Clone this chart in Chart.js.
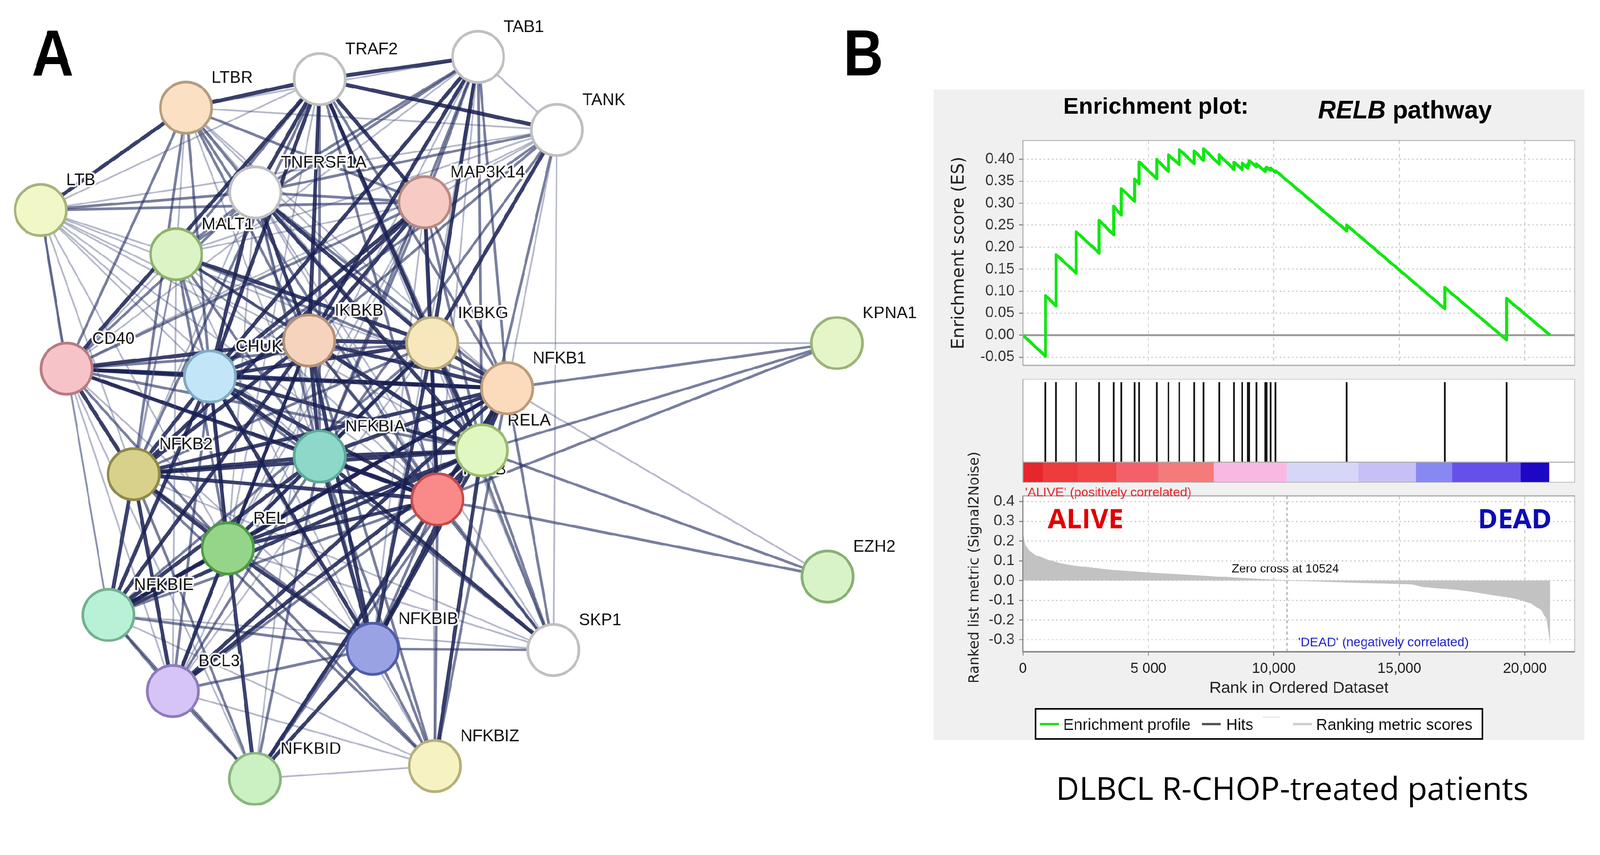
<!DOCTYPE html>
<html><head><meta charset="utf-8"><title>RELB network and GSEA enrichment plot</title>
<script src="https://cdn.jsdelivr.net/npm/chart.js@4.4.1/dist/chart.umd.min.js"></script>
<style>
html,body{margin:0;padding:0;background:#ffffff;overflow:hidden;}
#wrap{position:absolute;left:0;top:0;width:4250px;height:2188px;transform-origin:0 0;}
canvas{position:absolute;display:block;}
</style></head><body>
<div id="wrap">
<canvas id="base" width="4250" height="2188" style="left:0;top:0;width:4250px;height:2188px"></canvas>
<canvas id="es" width="1704" height="669" style="left:2480px;top:337px;width:1704px;height:669px"></canvas>
<canvas id="hits" width="1704" height="221" style="left:2480px;top:1006px;width:1704px;height:221px"></canvas>
<canvas id="bar" width="1704" height="54" style="left:2480px;top:1227px;width:1704px;height:54px"></canvas>
<canvas id="metric" width="1704" height="579" style="left:2480px;top:1281px;width:1704px;height:579px"></canvas>
</div>
<script>
// fit the 4250x2188 drawing into the actual viewport
(function(){const s=Math.min(window.innerWidth/4250, window.innerHeight/2188);
  document.getElementById('wrap').style.transform='scale('+s+')';})();

// ================= Panel A : STRING network =================
const nodeNames = ['LTBR','TRAF2','TAB1','TANK','LTB','TNFRSF1A','MAP3K14','MALT1','KPNA1','CD40','CHUK','IKBKB','IKBKG','NFKB1','NFKBIA','RELA','RELB','NFKB2','REL','EZH2','NFKBIE','NFKBIB','SKP1','BCL3','NFKBID','NFKBIZ'];
const nodeX = [494,849,1270,1479,108,678,1128,468,2223,177,558,821,1148,1347,849,1280,1162,355,605,2198,288,990,1470,459,677,1155];
const nodeY = [286,210,151,345,558,511,537,675,911,979,1000,904,911,1031,1212,1196,1326,1259,1456,1531,1633,1723,1726,1835,2068,2034];
const nodeFill = ['#fbe0c4','#ffffff','#ffffff','#ffffff','#f2f7c8','#ffffff','#f6cbc4','#dcf3c5','#e4f6c7','#f6c4c8','#c2e6f8','#f6d3bd','#f8e7bd','#fcdbbd','#8ed8ca','#e1f7c2','#fa8a8a','#d7d18c','#95d589','#d7f3c7','#b9f1d6','#99a3e3','#ffffff','#d7c4f6','#cbf0c1','#f7f2c2'];
const nodeStroke = ['#b59c7c','#c0c0c0','#c0c0c0','#c0c0c0','#a7b47c','#c0c0c0','#b88a82','#8fb26c','#9db27a','#b87a80','#80aac4','#b39078','#b7aa7c','#bd9b79','#5ea898','#9abb6e','#c44a4a','#8f8a48','#4c9b42','#88b072','#72b290','#4f5caa','#c0c0c0','#8e7ac0','#89b67d','#b6b07c'];
// [from, to, confidence level 1..3]
const edges = [
 ['TRAF2','LTBR',3],['TRAF2','TAB1',3],['TRAF2','TANK',3],['TRAF2','TNFRSF1A',3],['TRAF2','MAP3K14',3],['TRAF2','CHUK',3],['TRAF2','IKBKB',3],['TRAF2','IKBKG',3],['TRAF2','NFKB1',2],['TRAF2','RELA',2],['TRAF2','RELB',2],['TRAF2','NFKB2',2],['TRAF2','CD40',3],['TRAF2','LTB',1],['TRAF2','MALT1',2],['TRAF2','NFKBIA',2],['TRAF2','REL',1],['TRAF2','SKP1',1],
 ['TAB1','TANK',1],['TAB1','MAP3K14',2],['TAB1','IKBKB',3],['TAB1','IKBKG',3],['TAB1','CHUK',3],['TAB1','TNFRSF1A',2],['TAB1','NFKB1',2],['TAB1','RELA',2],['TAB1','NFKBIA',2],['TAB1','LTBR',1],['TAB1','MALT1',2],['TAB1','REL',1],['TAB1','CD40',1],['TAB1','RELB',1],['TAB1','NFKBIB',1],
 ['TANK','IKBKG',3],['TANK','IKBKB',2],['TANK','CHUK',2],['TANK','TNFRSF1A',2],['TANK','MAP3K14',1],['TANK','NFKB1',1],['TANK','RELA',2],['TANK','NFKBIA',2],['TANK','LTBR',1],['TANK','MALT1',1],['TANK','SKP1',1],['TANK','CD40',1],['TANK','LTB',1],
 ['LTBR','LTB',3],['LTBR','TNFRSF1A',2],['LTBR','MAP3K14',2],['LTBR','CHUK',2],['LTBR','IKBKB',2],['LTBR','MALT1',1],['LTBR','NFKB2',2],['LTBR','RELB',2],['LTBR','RELA',1],['LTBR','NFKB1',1],['LTBR','CD40',2],['LTBR','IKBKG',1],['LTBR','NFKBIA',1],
 ['LTB','TNFRSF1A',2],['LTB','MAP3K14',2],['LTB','CD40',2],['LTB','CHUK',1],['LTB','IKBKB',1],['LTB','NFKB2',1],['LTB','RELB',1],['LTB','RELA',1],['LTB','NFKB1',1],['LTB','NFKBIA',1],['LTB','REL',1],['LTB','MALT1',1],['LTB','NFKBIE',1],
 ['TNFRSF1A','IKBKB',3],['TNFRSF1A','IKBKG',3],['TNFRSF1A','CHUK',3],['TNFRSF1A','MAP3K14',2],['TNFRSF1A','NFKB1',2],['TNFRSF1A','RELA',3],['TNFRSF1A','NFKBIA',2],['TNFRSF1A','CD40',2],['TNFRSF1A','MALT1',2],['TNFRSF1A','RELB',1],['TNFRSF1A','NFKB2',1],['TNFRSF1A','REL',1],['TNFRSF1A','SKP1',1],['TNFRSF1A','NFKBIB',1],
 ['MAP3K14','CHUK',3],['MAP3K14','IKBKB',3],['MAP3K14','IKBKG',2],['MAP3K14','NFKB2',3],['MAP3K14','RELB',3],['MAP3K14','NFKB1',2],['MAP3K14','RELA',2],['MAP3K14','NFKBIA',2],['MAP3K14','CD40',2],['MAP3K14','MALT1',1],['MAP3K14','REL',1],['MAP3K14','NFKBIB',1],['MAP3K14','BCL3',1],
 ['MALT1','IKBKG',3],['MALT1','IKBKB',2],['MALT1','CHUK',2],['MALT1','NFKB1',2],['MALT1','RELA',2],['MALT1','NFKBIA',2],['MALT1','REL',2],['MALT1','CD40',1],['MALT1','BCL3',1],['MALT1','NFKB2',1],['MALT1','RELB',1],['MALT1','NFKBIB',1],['MALT1','NFKBIE',1],
 ['KPNA1','IKBKG',1],['KPNA1','NFKB1',2],['KPNA1','RELA',2],['KPNA1','RELB',2],
 ['EZH2','NFKB1',1],['EZH2','RELA',2],['EZH2','RELB',2],
 ['CD40','CHUK',3],['CD40','IKBKB',3],['CD40','IKBKG',2],['CD40','NFKB1',3],['CD40','RELA',2],['CD40','RELB',3],['CD40','NFKB2',3],['CD40','NFKBIA',2],['CD40','REL',2],['CD40','NFKBIE',1],['CD40','BCL3',1],['CD40','NFKBIB',1],['CD40','NFKBID',1],
 ['CHUK','IKBKB',3],['CHUK','IKBKG',3],['CHUK','NFKB1',3],['CHUK','RELA',3],['CHUK','RELB',3],['CHUK','NFKB2',3],['CHUK','NFKBIA',3],['CHUK','NFKBIB',3],['CHUK','NFKBIE',3],['CHUK','REL',3],['CHUK','BCL3',2],['CHUK','SKP1',2],['CHUK','NFKBID',1],['CHUK','NFKBIZ',1],
 ['IKBKB','IKBKG',3],['IKBKB','NFKB1',3],['IKBKB','RELA',3],['IKBKB','RELB',2],['IKBKB','NFKB2',3],['IKBKB','NFKBIA',3],['IKBKB','NFKBIB',3],['IKBKB','NFKBIE',3],['IKBKB','REL',3],['IKBKB','BCL3',2],['IKBKB','SKP1',2],['IKBKB','NFKBID',1],['IKBKB','NFKBIZ',2],
 ['IKBKG','NFKB1',3],['IKBKG','RELA',3],['IKBKG','RELB',2],['IKBKG','NFKB2',2],['IKBKG','NFKBIA',3],['IKBKG','NFKBIB',3],['IKBKG','NFKBIE',2],['IKBKG','REL',2],['IKBKG','BCL3',1],['IKBKG','SKP1',2],['IKBKG','NFKBIZ',1],
 ['NFKB1','RELA',3],['NFKB1','RELB',3],['NFKB1','NFKB2',3],['NFKB1','REL',3],['NFKB1','NFKBIA',3],['NFKB1','NFKBIB',3],['NFKB1','NFKBIE',3],['NFKB1','BCL3',3],['NFKB1','NFKBID',2],['NFKB1','NFKBIZ',2],['NFKB1','SKP1',2],
 ['NFKBIA','RELA',3],['NFKBIA','RELB',3],['NFKBIA','NFKB2',3],['NFKBIA','REL',3],['NFKBIA','NFKBIB',3],['NFKBIA','NFKBIE',3],['NFKBIA','BCL3',2],['NFKBIA','NFKBID',2],['NFKBIA','NFKBIZ',2],['NFKBIA','SKP1',3],
 ['RELA','RELB',3],['RELA','NFKB2',3],['RELA','REL',3],['RELA','NFKBIB',3],['RELA','NFKBIE',3],['RELA','BCL3',3],['RELA','NFKBID',2],['RELA','NFKBIZ',3],['RELA','SKP1',2],
 ['RELB','NFKB2',3],['RELB','REL',3],['RELB','NFKBIB',2],['RELB','NFKBIE',2],['RELB','BCL3',2],['RELB','NFKBID',3],['RELB','NFKBIZ',2],['RELB','SKP1',2],
 ['NFKB2','REL',3],['NFKB2','NFKBIB',2],['NFKB2','NFKBIE',3],['NFKB2','BCL3',3],['NFKB2','NFKBID',2],['NFKB2','NFKBIZ',2],['NFKB2','SKP1',1],
 ['REL','NFKBIB',3],['REL','NFKBIE',3],['REL','BCL3',3],['REL','NFKBID',3],['REL','NFKBIZ',2],['REL','SKP1',1],
 ['NFKBIE','NFKBIB',2],['NFKBIE','BCL3',2],['NFKBIE','NFKBID',2],['NFKBIE','NFKBIZ',1],['NFKBIE','SKP1',1],
 ['NFKBIB','BCL3',2],['NFKBIB','NFKBID',3],['NFKBIB','NFKBIZ',2],['NFKBIB','SKP1',2],
 ['BCL3','NFKBID',2],['BCL3','NFKBIZ',1],['NFKBID','NFKBIZ',1]
];

// ================= Panel B : GSEA =================
const esRank  = [0,900,900,1324,1324,2122,2122,3039,3039,3616,3616,3922,3922,4448,4448,4635,4635,5331,5331,5800,5800,6231,6231,6825,6825,7199,7199,7818,7818,8413,8413,8739,8739,8960,8960,9010,9010,9305,9305,9660,9660,9710,9710,9865,9865,10065,10065,12903,12903,16808,16808,19270,19270,21000];
const esScore = [0,-0.048,0.090,0.066,0.183,0.141,0.235,0.187,0.261,0.228,0.293,0.273,0.333,0.305,0.355,0.344,0.394,0.356,0.400,0.372,0.410,0.388,0.422,0.390,0.419,0.397,0.424,0.389,0.410,0.377,0.393,0.377,0.391,0.380,0.389,0.387,0.397,0.383,0.389,0.372,0.379,0.377,0.382,0.375,0.380,0.370,0.374,0.237,0.250,0.060,0.108,-0.011,0.083,0];
const hitRanks = [900,1324,2122,3039,3616,3922,4448,4635,5331,5800,6231,6825,7199,7818,8413,8739,8960,9010,9305,9660,9710,9865,10065,12903,16808,19270];
const metricRank  = [0,20,95,245,495,1000,1500,2000,2750,3500,4250,5250,6250,7250,8300,9400,10524,11500,12700,13500,14500,15500,15900,16300,17200,17900,18350,18750,19250,19750,20250,20650,20870,20990,21000];
const metricValue = [0.24,0.227,0.18,0.151,0.129,0.104,0.087,0.076,0.064,0.053,0.047,0.038,0.031,0.024,0.015,0.007,0,-0.003,-0.008,-0.011,-0.014,-0.018,-0.030,-0.037,-0.045,-0.056,-0.065,-0.073,-0.082,-0.096,-0.115,-0.149,-0.194,-0.30,-0.32];
const colorBarEdges  = [0,785,2180,3710,5380,7600,10510,13360,15650,17100,19820,20960];
const colorBarColors = ['#e5262b','#ee3b3b','#f04646','#f3606a','#f57a7a','#f9b8e2','#d6d6f8','#c6c0f6','#8888f2','#6650ea','#1c08c4'];
const xTickValues = [0,5000,10000,15000,20000];
const xTickLabels = ['0','5 000','10,000','15,000','20,000'];
const esTickValues = [-0.05,0,0.05,0.10,0.15,0.20,0.25,0.30,0.35,0.40];
const metricTickValues = [-0.3,-0.2,-0.1,0,0.1,0.2,0.3,0.4];
const zeroCross = 10524;

// ================= common =================
Chart.defaults.font.family = "'Liberation Sans', Arial, sans-serif";
Chart.defaults.animation = false;
const SANS = "'Liberation Sans', Arial, sans-serif";
const common = {responsive:false, animation:false, devicePixelRatio:1, events:[],
  layout:{padding:0, autoPadding:false},
  plugins:{legend:{display:false}, tooltip:{enabled:false}}};
const XMAX = 22000;
const AXW = 237;

// ---------- base chart (network + panel decorations) ----------
const idx = Object.fromEntries(nodeNames.map((n,i)=>[n,i]));
const edgeWidth = [0,4.5,7,10];
const edgeColor = ['', 'rgba(70,80,125,0.40)', 'rgba(38,48,98,0.62)', 'rgba(24,32,82,0.86)'];
const nodeDataset = {type:'scatter', label:'proteins',
  data: nodeNames.map((n,i)=>({x:nodeX[i], y:nodeY[i]})),
  pointRadius:68, pointHoverRadius:68, pointBorderWidth:7,
  pointBackgroundColor:nodeFill, pointBorderColor:nodeStroke, order:0};
const edgeDatasets = edges.map(([a,b,w])=>({type:'line', label:a+'-'+b,
  data:[{x:nodeX[idx[a]], y:nodeY[idx[a]]},{x:nodeX[idx[b]], y:nodeY[idx[b]]}],
  borderColor:edgeColor[w], borderWidth:edgeWidth[w], pointRadius:0, fill:false, order:1}));

function txt(ctx, s, x, y, font, color, align){ctx.font=font; ctx.fillStyle=color; ctx.textAlign=align||'left'; ctx.textBaseline='alphabetic'; ctx.fillText(s,x,y);}

const basePlugin = {
  id:'basePanel',
  beforeDraw(chart){
    const c=chart.ctx; c.save();
    c.fillStyle='#ffffff'; c.fillRect(0,0,4250,2188);
    c.fillStyle='#f0f0f0'; c.fillRect(2480,238,1729,1727);
    c.restore();
  },
  beforeDatasetDraw(chart,args){
    if(args.index!==0) return;
    const c=chart.ctx, xs=chart.scales.x, ys=chart.scales.y;
    c.save(); c.font='44px '+SANS; c.textBaseline='alphabetic'; c.textAlign='left'; c.lineJoin='round';
    nodeNames.forEach((n,i)=>{
      const px=xs.getPixelForValue(nodeX[i])+68, py=ys.getPixelForValue(nodeY[i])-66;
      c.strokeStyle='rgba(255,255,255,0.95)'; c.lineWidth=9; c.strokeText(n,px,py);
      c.fillStyle='#111111'; c.fillText(n,px,py);
    });
    c.restore();
  },
  afterDraw(chart){
    const c=chart.ctx; c.save();
    c.save(); c.translate(84,200); c.scale(0.9,1); txt(c,'A',0,0,'bold 172px '+SANS,'#000'); c.restore();
    c.save(); c.translate(2241,200); c.scale(0.85,1); txt(c,'B',0,0,'bold 172px '+SANS,'#000'); c.restore();
    txt(c,'Enrichment plot:',2824,302,'bold 62px '+SANS,'#000');
    c.font='italic bold 66px '+SANS; const wR=c.measureText('RELB ').width;
    txt(c,'RELB ',3501,314,'italic bold 66px '+SANS,'#000');
    txt(c,'pathway',3501+wR,314,'bold 66px '+SANS,'#000');
    txt(c,'DLBCL R-CHOP-treated patients',2805,2124,"85px 'Open Sans', "+SANS,'#000');
    // y title of the ranked-list panel (longer than the panel itself)
    c.save(); c.translate(2589,1507); c.rotate(-Math.PI/2);
    c.font="37px 'DejaVu Sans', sans-serif"; c.fillStyle='#222'; c.textAlign='center'; c.textBaseline='middle';
    c.fillText('Ranked list metric (Signal2Noise)',0,0); c.restore();
    // legend
    c.fillStyle='#ffffff'; c.fillRect(2751,1882,1187,80);
    c.strokeStyle='#000'; c.lineWidth=4; c.strokeRect(2751,1882,1187,80);
    const ly=1923;
    const seg=(x1,x2,y,col,w)=>{c.beginPath(); c.moveTo(x1,y); c.lineTo(x2,y); c.strokeStyle=col; c.lineWidth=w; c.stroke();};
    seg(2762,2813,ly,'#1ee01e',6); txt(c,'Enrichment profile',2824,ly+15,'42px '+SANS,'#111');
    seg(3193,3242,ly,'#555555',6); txt(c,'Hits',3257,ly+15,'42px '+SANS,'#111');
    seg(3355,3400,1904,'#e6e6e6',3);
    seg(3434,3485,ly,'#cfcfcf',6); txt(c,'Ranking metric scores',3496,ly+15,'42px '+SANS,'#111');
    c.restore();
  }
};

new Chart(document.getElementById('base'), {
  data:{datasets:[nodeDataset, ...edgeDatasets]},
  options:{...common,
    scales:{x:{type:'linear',min:0,max:4250,display:false}, y:{type:'linear',min:0,max:2188,reverse:true,display:false}}},
  plugins:[basePlugin]
});

// ---------- helpers for GSEA panels ----------
const whiteArea = {id:'whiteArea', beforeDraw(chart){const {ctx:c,chartArea:a}=chart; c.save(); c.fillStyle='#ffffff'; c.fillRect(a.left,a.top,a.width,a.height); c.restore();}};
function frame(chart,col,w){const {ctx:c,chartArea:a}=chart; c.save(); c.strokeStyle=col; c.lineWidth=w; c.strokeRect(a.left,a.top,a.width,a.height); c.restore();}
const xGridAxis = ()=>({type:'linear', min:0, max:XMAX,
  afterBuildTicks:s=>{s.ticks=xTickValues.map(v=>({value:v}));},
  grid:{color:'#cfcfcf', lineWidth:3, drawTicks:false, borderDash:[9,9]},
  border:{display:false, dash:[9,9]},
  ticks:{display:false}, afterFit:s=>{s.height=0;}});
const hiddenY = (min,max)=>({type:'linear',min,max, ticks:{display:false}, grid:{display:false}, border:{display:false}, afterFit:s=>{s.width=AXW;}});

// ---------- ES curve ----------
new Chart(document.getElementById('es'), {
  type:'line',
  data:{datasets:[{label:'Enrichment profile', data:esRank.map((r,i)=>({x:r,y:esScore[i]})),
    borderColor:'#12e612', borderWidth:8, pointRadius:0, tension:0, borderJoinStyle:'round', fill:false}]},
  options:{...common,
    scales:{
      x: xGridAxis(),
      y:{type:'linear', min:-0.0688, max:0.4428,
        afterBuildTicks:s=>{s.ticks=esTickValues.map(v=>({value:v}));},
        afterFit:s=>{s.width=AXW;},
        ticks:{callback:v=>v.toFixed(2), font:{size:40}, color:'#333', padding:12},
        grid:{color:'#cccccc', lineWidth:3, tickLength:10, tickColor:'#888', tickWidth:3, tickBorderDash:[], borderDash:[4,7]},
        border:{display:false, dash:[4,7]},
        title:{display:true, text:'Enrichment score (ES)', font:{family:'DejaVu Sans', size:46}, color:'#222', padding:{top:40,bottom:0}}}
    }},
  plugins:[whiteArea, {id:'esDeco',
    beforeDatasetsDraw(chart){const {ctx:c,chartArea:a,scales:{y}}=chart; const py=y.getPixelForValue(0);
      c.save(); c.strokeStyle='#9a9a9a'; c.lineWidth=5; c.beginPath(); c.moveTo(a.left,py); c.lineTo(a.right,py); c.stroke(); c.restore();},
    afterDraw(chart){frame(chart,'#a8a8a8',3);}}]
});

// ---------- hits ----------
new Chart(document.getElementById('hits'), {
  type:'line',
  data:{datasets:[{label:'Hits', data:hitRanks.flatMap(r=>[{x:r,y:0},{x:r,y:1},{x:r,y:null}]),
    borderColor:'#151515', borderWidth:4.5, pointRadius:0, spanGaps:false, fill:false}]},
  options:{...common,
    scales:{x:{type:'linear',min:0,max:XMAX,display:false}, y:hiddenY(0,1.042)}},
  plugins:[whiteArea, {id:'hitFrame', afterDraw(chart){frame(chart,'#a8a8a8',3);}}]
});

// ---------- colour bar ----------
new Chart(document.getElementById('bar'), {
  type:'bar',
  data:{labels:['rank'], datasets:colorBarColors.map((col,i)=>({label:'seg'+i,
    data:[[colorBarEdges[i], colorBarEdges[i+1]]], backgroundColor:col, borderWidth:0,
    grouped:false, barPercentage:1, categoryPercentage:1}))},
  options:{...common, indexAxis:'y',
    scales:{x:{type:'linear',min:0,max:XMAX,display:false},
      y:{type:'category', ticks:{display:false}, grid:{display:false}, border:{display:false}, afterFit:s=>{s.width=AXW;}}}},
  plugins:[whiteArea, {id:'barFrame', afterDraw(chart){frame(chart,'#a8a8a8',3);}}]
});

// ---------- ranked list metric ----------
new Chart(document.getElementById('metric'), {
  type:'line',
  data:{datasets:[{label:'Ranking metric scores', data:metricRank.map((r,i)=>({x:r,y:metricValue[i]})),
    borderColor:'#bdbdbd', borderWidth:1, backgroundColor:'#c2c2c2', fill:'origin', pointRadius:0, tension:0}]},
  options:{...common,
    scales:{
      x:{type:'linear', min:0, max:XMAX,
        afterBuildTicks:s=>{s.ticks=xTickValues.map(v=>({value:v}));},
        afterFit:s=>{s.height=129;},
        ticks:{callback:(v,i)=>xTickLabels[i], font:{size:38}, color:'#222', padding:13, maxRotation:0, autoSkip:false},
        grid:{color:'#cfcfcf', lineWidth:3, tickLength:10, tickColor:'#888', tickWidth:3, tickBorderDash:[], borderDash:[9,9]},
        border:{display:false, dash:[9,9]},
        title:{display:true, text:'Rank in Ordered Dataset', font:{size:43}, color:'#222', padding:{top:0,bottom:6}}},
      y:{type:'linear', min:-0.361, max:0.428,
        afterBuildTicks:s=>{s.ticks=metricTickValues.map(v=>({value:v}));},
        afterFit:s=>{s.width=AXW;},
        ticks:{callback:v=>v.toFixed(1), font:{size:40}, color:'#333', padding:12},
        grid:{color:'#cccccc', lineWidth:3, tickLength:10, tickColor:'#888', tickWidth:3, tickBorderDash:[], borderDash:[4,7]},
        border:{display:false, dash:[4,7]}}
    }},
  plugins:[whiteArea, {id:'metricDeco',
    beforeDatasetsDraw(chart){const {ctx:c,chartArea:a,scales:{x}}=chart; const px=x.getPixelForValue(zeroCross);
      c.save(); c.strokeStyle='#9c9c9c'; c.lineWidth=2.5; c.setLineDash([8,7]); c.beginPath(); c.moveTo(px,a.top); c.lineTo(px,a.bottom); c.stroke(); c.restore();},
    afterDraw(chart){
      const {ctx:c,chartArea:a}=chart;
      frame(chart,'#a8a8a8',3);
      c.save(); c.strokeStyle='#888'; c.lineWidth=4;
      c.beginPath(); c.moveTo(a.left,a.top); c.lineTo(a.left,a.bottom); c.lineTo(a.right,a.bottom); c.stroke();
      c.fillStyle='#ffffff'; c.fillRect(788,210,297,36);
      txt(c,'Zero cross at 10524',792,239,'32px '+SANS,'#111');
      txt(c,"'ALIVE' (positively correlated)",243,37,'34px '+SANS,'#e3262c');
      txt(c,"'DEAD' (negatively correlated)",968,435,'34px '+SANS,'#2424cc');
      txt(c,'ALIVE',303,122,"bold 72px 'Open Sans', "+SANS,'#e00000');
      txt(c,'DEAD',1445,122,"bold 72px 'Open Sans', "+SANS,'#0c0cb4');
      c.restore();
    }}]
});
</script></body></html>
